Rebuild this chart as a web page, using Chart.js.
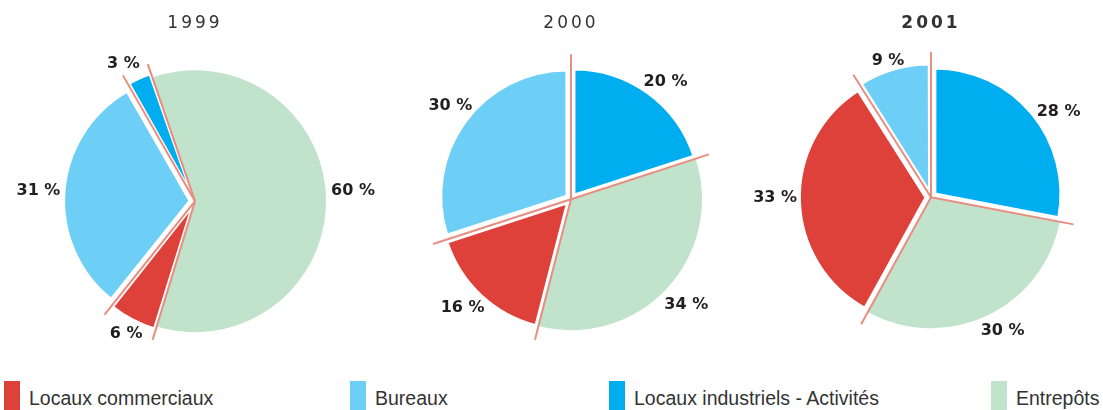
<!DOCTYPE html>
<html>
<head>
<meta charset="utf-8">
<script src="https://cdn.jsdelivr.net/npm/chart.js@4.4.1/dist/chart.umd.min.js"></script>
<style>
  html, body { margin: 0; padding: 0; background: #fff; overflow: hidden; width: 1103px; height: 410px; }
  canvas { position: absolute; top: 0; }
  .leg { position: absolute; top: 381px; height: 29px; font-family: "Liberation Sans", Arial, sans-serif; font-size: 19.5px; color: #333; white-space: nowrap; }
  .leg .sw { position: absolute; left: 0; top: 0; width: 16px; height: 29px; }
  .leg .t { position: absolute; left: 25px; top: 7px; line-height: 20px; }
</style>
</head>
<body>
<canvas id="c1999" width="370" height="370" style="left:10px"></canvas>
<canvas id="c2000" width="370" height="370" style="left:386px"></canvas>
<canvas id="c2001" width="370" height="370" style="left:746px"></canvas>
<div id="legend"></div>
<script>
// ---- data ----
const categories = ['Locaux commerciaux', 'Bureaux', 'Locaux industriels - Activités', 'Entrepôts'];
const years = ['1999', '2000', '2001'];
const values1999 = [6, 31, 3, 60];
const values2000 = [16, 30, 20, 34];
const values2001 = [33, 9, 28, 30];

// ---- styles ----
const colors = ['#DD4139', '#6DCFF6', '#00AEEF', '#C1E2CB'];
const lineColor = '#E88D80';
const sliceOffset = [20, 20, 20, 0];
const sliceBorder = [3, 3, 3, 0];
const sliceInset = [5, 5, 5, 0];
const rotations = [197, 194.4, 208.8];
const bottomPads = [1, 5, 9];
const legendLefts = [4, 350, 609, 991];
// small label nudges (px) per chart, per slice
const labelNudge1999 = [[3, -2], [-3, 3], [-8, 5], [4, -6]];
const labelNudge2000 = [[-3, -2], [4, -1], [4, 9], [3, 2]];
const labelNudge2001 = [[-2, -2], [0, 14], [9, 15], [6, -4]];

const spacingPlugin = {
  id: 'titleSpacing',
  beforeDraw(chart) { chart.ctx.letterSpacing = '3px'; },
  beforeDatasetsDraw(chart) { chart.ctx.letterSpacing = '0px'; }
};

const insetPlugin = {
  id: 'inset',
  afterDatasetUpdate(chart, args) {
    const meta = chart.getDatasetMeta(args.index);
    meta.data.forEach((arc, i) => { arc.outerRadius = arc.outerRadius - sliceInset[i]; });
  }
};

const dividerPlugin = {
  id: 'dividers',
  afterDatasetsDraw(chart) {
    const meta = chart.getDatasetMeta(0);
    const R = meta.controller.outerRadius;
    const ctx = chart.ctx;
    ctx.save();
    ctx.strokeStyle = lineColor;
    ctx.lineWidth = 2;
    meta.data.forEach(arc => {
      const a = arc.startAngle;
      ctx.beginPath();
      ctx.moveTo(arc.x, arc.y);
      ctx.lineTo(arc.x + Math.cos(a) * (R + 14), arc.y + Math.sin(a) * (R + 14));
      ctx.stroke();
    });
    ctx.restore();
  }
};

const labelPlugin = {
  id: 'pctLabels',
  afterDatasetsDraw(chart, args, opts) {
    const meta = chart.getDatasetMeta(0);
    const R = meta.controller.outerRadius;
    const vals = chart.data.datasets[0].data;
    const nudge = opts.nudge || [];
    const ctx = chart.ctx;
    ctx.save();
    ctx.letterSpacing = '0px';
    ctx.font = 'bold 16px "DejaVu Sans", sans-serif';
    ctx.fillStyle = '#231F20';
    ctx.textAlign = 'center';
    ctx.textBaseline = 'middle';
    meta.data.forEach((arc, i) => {
      const mid = (arc.startAngle + arc.endAngle) / 2;
      const r = R + 23;
      const n = nudge[i] || [0, 0];
      ctx.fillText(vals[i] + ' %', arc.x + Math.cos(mid) * r + n[0], arc.y + Math.sin(mid) * r - 2 + n[1]);
    });
    ctx.restore();
  }
};

function makeChart(id, year, values, rotation, bold, padBottom, nudge) {
  return new Chart(document.getElementById(id), {
    type: 'pie',
    data: {
      labels: categories,
      datasets: [{
        data: values,
        backgroundColor: colors,
        borderColor: '#ffffff',
        borderWidth: sliceBorder,
        offset: sliceOffset
      }]
    },
    options: {
      responsive: false,
      animation: false,
      devicePixelRatio: 1,
      events: [],
      radius: 131,
      rotation: rotation,
      layout: { padding: { top: 0, bottom: padBottom, left: 0, right: 0 } },
      plugins: {
        legend: { display: false },
        tooltip: { enabled: false },
        pctLabels: { nudge: nudge },
        title: {
          display: true,
          text: year,
          color: '#333333',
          font: { family: '"DejaVu Sans", sans-serif', size: 17, weight: bold ? 'bold' : 'normal', lineHeight: 1.2 },
          padding: { top: 13, bottom: 0 }
        }
      }
    },
    plugins: [spacingPlugin, insetPlugin, dividerPlugin, labelPlugin]
  });
}

makeChart('c1999', years[0], values1999, rotations[0], false, bottomPads[0], labelNudge1999);
makeChart('c2000', years[1], values2000, rotations[1], false, bottomPads[1], labelNudge2000);
makeChart('c2001', years[2], values2001, rotations[2], true, bottomPads[2], labelNudge2001);

// HTML legend built from the category list
const legend = document.getElementById('legend');
categories.forEach((name, i) => {
  const d = document.createElement('div');
  d.className = 'leg';
  d.style.left = legendLefts[i] + 'px';
  const sw = document.createElement('span');
  sw.className = 'sw';
  sw.style.background = colors[i];
  const t = document.createElement('span');
  t.className = 't';
  t.textContent = name;
  d.appendChild(sw);
  d.appendChild(t);
  legend.appendChild(d);
});
</script>
</body>
</html>
